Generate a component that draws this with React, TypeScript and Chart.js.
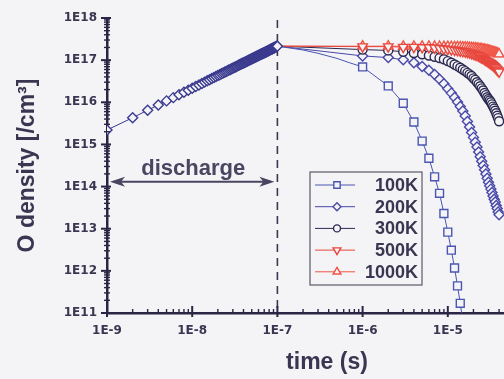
import React, { useEffect, useRef } from 'react';
import { Chart, registerables } from 'chart.js';

Chart.register(...registerables);

// ---------- data ----------
const DISCHARGE_NS = [
  1, 2, 3, 4, 5, 6, 7, 8, 9, 10, 11, 12, 13, 14, 15, 16, 17, 18, 19, 20,
  21, 22, 23, 24, 25, 26, 27, 28, 29, 30, 31, 32, 33, 34, 35, 36, 37, 38, 39, 40,
  41, 42, 43, 44, 45, 46, 47, 48, 49, 50, 51, 52, 53, 54, 55, 56, 57, 58, 59, 60,
  61, 62, 63, 64, 65, 66, 67, 68, 69, 70, 71, 72, 73, 74, 75, 76, 77, 78, 79, 80,
  81, 82, 83, 84, 85, 86, 87, 88, 89, 90, 91, 92, 93, 94, 95, 96, 97, 98, 99, 100,
];
// O density during discharge, in units of 1E15 /cm3
const DISCHARGE_E15 = [
  2.2, 4.3, 6.5, 8.6, 10.8, 12.9, 15.1, 17.2, 19.4, 21.5, 23.7, 25.8, 28.0, 30.1, 32.3, 34.4, 36.6, 38.7, 40.9, 43.0,
  45.2, 47.3, 49.5, 51.6, 53.8, 55.9, 58.1, 60.2, 62.4, 64.5, 66.7, 68.8, 71.0, 73.1, 75.3, 77.4, 79.6, 81.7, 83.9, 86.0,
  88.2, 90.3, 92.5, 94.6, 96.8, 98.9, 101.1, 103.2, 105.4, 107.5, 109.7, 111.8, 114.0, 116.1, 118.3, 120.4, 122.6, 124.7, 126.9, 129.0,
  131.2, 133.3, 135.5, 137.6, 139.8, 141.9, 144.1, 146.2, 148.4, 150.5, 152.7, 154.8, 157.0, 159.1, 161.3, 163.4, 165.6, 167.7, 169.9, 172.0,
  174.2, 176.3, 178.5, 180.6, 182.8, 184.9, 187.1, 189.2, 191.4, 193.5, 195.7, 197.8, 200.0, 202.1, 204.3, 206.4, 208.6, 210.7, 212.9, 215.0,
];

const PEAK_US = 0.1;
const PEAK_VALUE = 2.15e17;

const T100K_US = [0.2, 0.3, 0.5, 0.7, 1, 2, 3, 4, 5, 6, 7, 8, 9, 10, 11, 12, 13, 14, 15];
const V100K = [
  1.74e17, 1.45e17, 1.1e17, 8.7e16, 6.9e16, 2.45e16, 9.5e15, 3.4e15, 1.2e15, 4.7e14,
  1.7e14, 6.9e13, 2.3e13, 8.3e12, 3.1e12, 1.17e12, 4.4e11, 1.7e11, 6.3e10,
];

const DECAY_US = [
  1, 2, 3, 4, 5, 6, 7, 8, 9, 10, 11, 12, 13, 14, 15, 16, 17, 18, 19, 20,
  21, 22, 23, 24, 25, 26, 27, 28, 29, 30, 31, 32, 33, 34, 35, 36, 37, 38, 39, 40,
];
const V200K = [
  1.26e17, 1.15e17, 1.02e17, 8.7e16, 7.1e16, 5.75e16, 4.57e16, 3.5e16, 2.75e16, 2.1e16,
  1.65e16, 1.3e16, 1.02e16, 7.9e15, 6.2e15, 4.7e15, 3.5e15, 2.6e15, 1.93e15, 1.47e15,
  1.12e15, 8.7e14, 6.6e14, 5.1e14, 4.0e14, 3.16e14, 2.5e14, 2.0e14, 1.58e14, 1.26e14,
  1.05e14, 8.7e13, 7.2e13, 6.0e13, 5.0e13, 4.3e13, 3.55e13, 3.0e13, 2.5e13, 2.14e13,
];
const V300K = [
  1.78e17, 1.7e17, 1.58e17, 1.48e17, 1.38e17, 1.29e17, 1.2e17, 1.12e17, 1.05e17, 9.5e16,
  8.7e16, 7.9e16, 7.2e16, 6.6e16, 6.0e16, 5.5e16, 5.0e16, 4.6e16, 4.2e16, 3.7e16,
  3.4e16, 3.0e16, 2.7e16, 2.4e16, 2.14e16, 1.9e16, 1.66e16, 1.48e16, 1.32e16, 1.2e16,
  1.1e16, 1.0e16, 8.9e15, 7.9e15, 7.1e15, 6.3e15, 5.5e15, 4.8e15, 4.2e15, 3.55e15,
];
const V500K = [
  2.09e17, 2.09e17, 2.04e17, 2.04e17, 2.0e17, 2.0e17, 1.95e17, 1.91e17, 1.86e17, 1.82e17,
  1.78e17, 1.74e17, 1.7e17, 1.66e17, 1.62e17, 1.58e17, 1.55e17, 1.51e17, 1.45e17, 1.41e17,
  1.35e17, 1.32e17, 1.26e17, 1.2e17, 1.15e17, 1.1e17, 1.05e17, 1.0e17, 9.5e16, 9.1e16,
  8.7e16, 8.3e16, 7.9e16, 7.5e16, 7.1e16, 6.7e16, 6.3e16, 5.9e16, 5.6e16, 5.3e16,
];
const V1000K = [
  2.14e17, 2.14e17, 2.13e17, 2.13e17, 2.12e17, 2.12e17, 2.11e17, 2.11e17, 2.1e17, 2.09e17,
  2.08e17, 2.07e17, 2.06e17, 2.05e17, 2.04e17, 2.02e17, 2.0e17, 1.98e17, 1.96e17, 1.94e17,
  1.92e17, 1.9e17, 1.88e17, 1.86e17, 1.84e17, 1.81e17, 1.78e17, 1.75e17, 1.72e17, 1.69e17,
  1.66e17, 1.63e17, 1.6e17, 1.57e17, 1.54e17, 1.51e17, 1.48e17, 1.45e17, 1.42e17, 1.39e17,
];

const LEGEND_LABELS = ['100K', '200K', '300K', '500K', '1000K'];
const X_TICK_LABELS = ['1E-9', '1E-8', '1E-7', '1E-6', '1E-5', '1E-4'];
const Y_TICK_LABELS = ['1E11', '1E12', '1E13', '1E14', '1E15', '1E16', '1E17', '1E18'];
const X_TITLE = 'time (s)';
const Y_TITLE = 'O density [/cm\u00B3]';
const DISCHARGE_LABEL = 'discharge';
const DISCHARGE_END_S = 1e-7;
const ARROW_LEVEL = 1.3e14;

// ---------- styles ----------
const BG = '#f4f4f7';
const AXIS = '#2b2545';
const TEXT = '#3a3550';
const C100 = '#4a56b0';
const C200 = '#4848a8';
const C300 = '#2a2850';
const C500 = '#e8463c';
const C1000 = '#f05444';
const CDIS = '#3a3a8e';
const TITLE_FONT = 'bold 23px "Liberation Sans", Arial, sans-serif';

type Pt = { x: number; y: number };

function decay(times: number[], values: number[]): Pt[] {
  const pts: Pt[] = [{ x: PEAK_US * 1e-6, y: PEAK_VALUE }];
  times.forEach((t, i) => pts.push({ x: t * 1e-6, y: values[i] }));
  return pts;
}

function isPow10(v: number) {
  const e = Math.log10(v);
  return Math.abs(e - Math.round(e)) < 1e-6;
}

function drawMarker(ctx: CanvasRenderingContext2D, style: string, x: number, y: number, r: number, rot: number) {
  ctx.beginPath();
  if (style === 'rect') {
    const s = r * Math.SQRT1_2;
    ctx.rect(x - s, y - s, 2 * s, 2 * s);
  } else if (style === 'rectRot') {
    ctx.moveTo(x - r, y);
    ctx.lineTo(x, y - r);
    ctx.lineTo(x + r, y);
    ctx.lineTo(x, y + r);
    ctx.closePath();
  } else if (style === 'circle') {
    ctx.arc(x, y, r, 0, Math.PI * 2);
  } else {
    let a = (rot * Math.PI) / 180;
    ctx.moveTo(x + Math.sin(a) * r, y - Math.cos(a) * r);
    a += (2 * Math.PI) / 3;
    ctx.lineTo(x + Math.sin(a) * r, y - Math.cos(a) * r);
    a += (2 * Math.PI) / 3;
    ctx.lineTo(x + Math.sin(a) * r, y - Math.cos(a) * r);
    ctx.closePath();
  }
  ctx.fill();
  ctx.stroke();
}

const decorPlugin = {
  id: 'decor',
  beforeDraw(chart: any) {
    const { ctx, width, height } = chart;
    ctx.save();
    ctx.fillStyle = BG;
    ctx.fillRect(0, 0, width, height);
    ctx.restore();
  },
  beforeDatasetsDraw(chart: any) {
    const { ctx, chartArea } = chart;
    const xs = chart.scales.x;
    const ys = chart.scales.y;
    const xd = xs.getPixelForValue(DISCHARGE_END_S);
    const x0 = xs.getPixelForValue(xs.min);
    ctx.save();
    // dashed line at end of discharge
    ctx.strokeStyle = '#3a3850';
    ctx.lineWidth = 1.6;
    ctx.setLineDash([8, 6]);
    ctx.beginPath();
    ctx.moveTo(xd, chartArea.top + 2);
    ctx.lineTo(xd, chartArea.bottom);
    ctx.stroke();
    ctx.setLineDash([]);
    // double arrow
    const ya = ys.getPixelForValue(ARROW_LEVEL);
    const a0 = x0 + 3;
    const a1 = xd - 3;
    ctx.strokeStyle = '#4a4560';
    ctx.fillStyle = '#4a4560';
    ctx.lineWidth = 2;
    ctx.beginPath();
    ctx.moveTo(a0 + 4, ya);
    ctx.lineTo(a1 - 4, ya);
    ctx.stroke();
    const head = (tipX: number, dir: number) => {
      ctx.beginPath();
      ctx.moveTo(tipX, ya);
      ctx.lineTo(tipX + dir * 15, ya - 5);
      ctx.lineTo(tipX + dir * 11, ya);
      ctx.lineTo(tipX + dir * 15, ya + 5);
      ctx.closePath();
      ctx.fill();
    };
    head(a0, 1);
    head(a1, -1);
    ctx.font = 'bold 22px "Liberation Sans", Arial, sans-serif';
    ctx.textAlign = 'center';
    ctx.textBaseline = 'alphabetic';
    ctx.fillText(DISCHARGE_LABEL, (a0 + a1) / 2 + 1, ya - 7);
    ctx.restore();
  },
  afterDraw(chart: any) {
    const { ctx, chartArea } = chart;
    const xs = chart.scales.x;
    const ys = chart.scales.y;
    ctx.save();
    ctx.strokeStyle = AXIS;
    // y axis ticks
    const lx = chartArea.left;
    for (let e = 11; e <= 18; e++) {
      for (let m = 1; m <= 9; m++) {
        const v = m * Math.pow(10, e);
        if (v > 1e18 * 1.0001) break;
        const py = ys.getPixelForValue(v);
        ctx.beginPath();
        if (m === 1) {
          ctx.lineWidth = 2;
          ctx.moveTo(lx - 6, py);
          ctx.lineTo(lx + 4, py);
        } else {
          ctx.lineWidth = 1.4;
          ctx.moveTo(lx - 3, py);
          ctx.lineTo(lx + 3, py);
        }
        ctx.stroke();
      }
    }
    // x axis ticks
    const by = chartArea.bottom;
    for (let e = -9; e <= -4; e++) {
      for (let m = 1; m <= 9; m++) {
        const v = m * Math.pow(10, e);
        if (v > 1e-4 * 1.0001) break;
        const px = xs.getPixelForValue(v);
        ctx.beginPath();
        if (m === 1) {
          ctx.lineWidth = 2;
          ctx.moveTo(px, by + 4);
          ctx.lineTo(px, by - 7);
        } else {
          ctx.lineWidth = 1.4;
          ctx.moveTo(px, by);
          ctx.lineTo(px, by - 4);
        }
        ctx.stroke();
      }
    }
    // x axis title
    ctx.fillStyle = TEXT;
    ctx.font = TITLE_FONT;
    ctx.textAlign = 'center';
    ctx.textBaseline = 'middle';
    ctx.fillText(X_TITLE, 327, 363);
    // legend
    const bx = 310;
    const byTop = 172;
    const bw = 112;
    const bh = 113;
    ctx.fillStyle = BG;
    ctx.fillRect(bx, byTop, bw, bh);
    ctx.strokeStyle = '#5a5868';
    ctx.lineWidth = 1.2;
    ctx.strokeRect(bx, byTop, bw, bh);
    const items = chart.data.datasets.filter((d: any) => d.legendIndex !== undefined);
    items.sort((a: any, b: any) => a.legendIndex - b.legendIndex);
    items.forEach((d: any, i: number) => {
      const ry = byTop + 13 + i * 21.7;
      ctx.strokeStyle = d.borderColor;
      ctx.lineWidth = 1;
      ctx.beginPath();
      ctx.moveTo(bx + 5, ry);
      ctx.lineTo(bx + 45, ry);
      ctx.stroke();
      ctx.fillStyle = BG;
      ctx.lineWidth = 1.4;
      drawMarker(ctx, d.pointStyle, bx + 27, ry, d.legendRadius, d.pointRotation || 0);
      ctx.fillStyle = TEXT;
      ctx.font = 'bold 18px "Liberation Sans", Arial, sans-serif';
      ctx.textAlign = 'right';
      ctx.textBaseline = 'middle';
      ctx.fillText(LEGEND_LABELS[d.legendIndex], bx + bw - 4, ry + 1);
    });
    ctx.restore();
  },
};

function markerRadius(r: number) {
  return (c: any) => {
    const raw = c.raw as Pt | undefined;
    if (!raw) return 0;
    return raw.x >= 0.99e-6 ? r : 0;
  };
}

export default function App() {
  const ref = useRef<HTMLCanvasElement | null>(null);

  useEffect(() => {
    document.body.style.margin = '0';
    document.body.style.background = BG;
    const canvas = ref.current;
    if (!canvas) return;

    const discharge: Pt[] = DISCHARGE_NS.map((t, i) => ({ x: t * 1e-9, y: DISCHARGE_E15[i] * 1e15 }));

    const common = {
      showLine: true,
      borderWidth: 1,
      pointBorderWidth: 1.4,
      pointBackgroundColor: BG,
      pointHoverRadius: 0,
      tension: 0,
    };

    const chart = new Chart(canvas, {
      type: 'scatter',
      data: {
        datasets: [
          {
            ...common,
            label: 'discharge',
            data: discharge,
            borderColor: CDIS,
            pointBorderColor: CDIS,
            pointStyle: 'rectRot',
            pointRadius: 5,
            order: 0,
          },
          {
            ...common,
            label: LEGEND_LABELS[0],
            legendIndex: 0,
            legendRadius: 4.5,
            data: [{ x: PEAK_US * 1e-6, y: PEAK_VALUE }].concat(T100K_US.map((t, i) => ({ x: t * 1e-6, y: V100K[i] }))),
            borderColor: C100,
            pointBorderColor: C100,
            pointStyle: 'rect',
            pointRadius: markerRadius(5.6),
            order: 1,
          },
          {
            ...common,
            label: LEGEND_LABELS[1],
            legendIndex: 1,
            legendRadius: 4,
            data: decay(DECAY_US, V200K),
            borderColor: C200,
            pointBorderColor: C200,
            pointStyle: 'rectRot',
            pointRadius: markerRadius(5),
            order: 4,
          },
          {
            ...common,
            label: LEGEND_LABELS[2],
            legendIndex: 2,
            legendRadius: 3.5,
            data: decay(DECAY_US, V300K),
            borderColor: C300,
            pointBorderColor: C300,
            pointStyle: 'circle',
            pointRadius: markerRadius(4.5),
            order: 3,
          },
          {
            ...common,
            label: LEGEND_LABELS[3],
            legendIndex: 3,
            legendRadius: 4.5,
            data: decay(DECAY_US, V500K),
            borderColor: C500,
            pointBorderColor: C500,
            pointStyle: 'triangle',
            pointRotation: 180,
            pointRadius: markerRadius(5.5),
            order: 2,
          },
          {
            ...common,
            label: LEGEND_LABELS[4],
            legendIndex: 4,
            legendRadius: 4.5,
            data: decay(DECAY_US, V1000K),
            borderColor: C1000,
            pointBorderColor: C1000,
            pointStyle: 'triangle',
            pointRadius: markerRadius(5.5),
            order: 2,
          },
        ] as any,
      },
      options: {
        responsive: false,
        animation: false,
        events: [],
        layout: { padding: { top: 18, right: 5, left: 0, bottom: 0 } },
        plugins: {
          legend: { display: false },
          tooltip: { enabled: false },
        },
        scales: {
          x: {
            type: 'logarithmic',
            min: 1e-9,
            max: 1e-4,
            grid: { display: false, drawTicks: false },
            border: { display: true, color: AXIS, width: 2.5 },
            afterFit: (s: any) => {
              s.height = 66;
              s.paddingLeft = 0;
              s.paddingRight = 0;
            },
            ticks: {
              autoSkip: false,
              maxRotation: 0,
              padding: 11,
              color: TEXT,
              font: { family: '"DejaVu Sans", sans-serif', size: 12, weight: 'bold' },
              callback: (v: any) => {
                const n = Number(v);
                if (!isPow10(n)) return '';
                const e = Math.round(Math.log10(n));
                return X_TICK_LABELS[e + 9] ?? '';
              },
            },
            title: { display: false },
          },
          y: {
            type: 'logarithmic',
            min: 1e11,
            max: 1e18,
            grid: { display: false, drawTicks: false },
            border: { display: true, color: AXIS, width: 2.5 },
            afterFit: (s: any) => {
              s.width = 107;
              s.paddingTop = 0;
              s.paddingBottom = 0;
            },
            ticks: {
              autoSkip: false,
              padding: 10,
              color: TEXT,
              font: { family: '"DejaVu Sans", sans-serif', size: 12, weight: 'bold' },
              callback: (v: any) => {
                const n = Number(v);
                if (!isPow10(n)) return '';
                const e = Math.round(Math.log10(n));
                return Y_TICK_LABELS[e - 11] ?? '';
              },
            },
            title: {
              display: true,
              text: Y_TITLE,
              color: TEXT,
              font: { family: '"Liberation Sans", Arial, sans-serif', size: 23, weight: 'bold' },
              padding: { top: 14, bottom: 0 },
            },
          },
        },
      } as any,
      plugins: [decorPlugin],
    });

    return () => chart.destroy();
  }, []);

  return (
    <div
      style={{
        position: 'fixed',
        left: 0,
        top: 0,
        width: 504,
        height: 379,
        overflow: 'hidden',
        background: BG,
      }}
    >
      <canvas ref={ref} width={540} height={379} style={{ display: 'block', width: 540, height: 379 }} />
    </div>
  );
}
